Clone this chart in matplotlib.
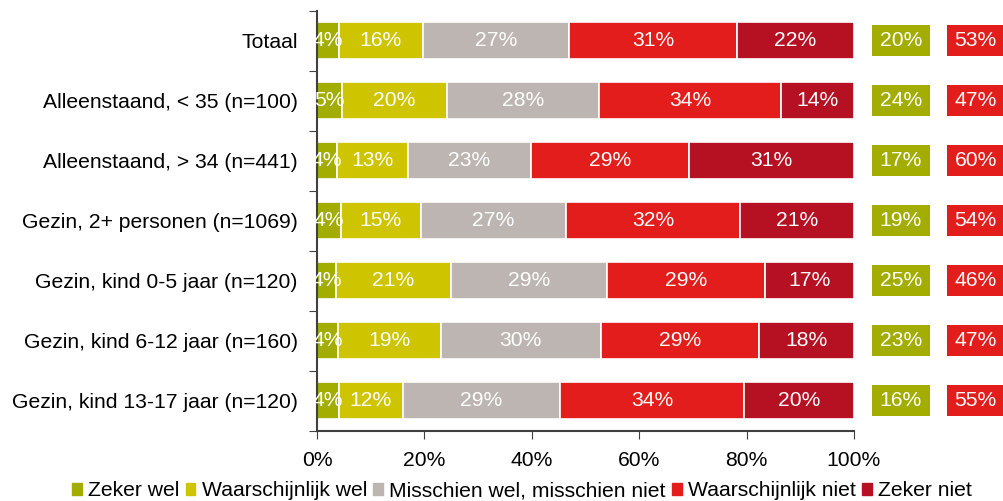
import numpy as np
import matplotlib.pyplot as plt
from matplotlib.patches import Patch

plt.rcParams['font.family'] = ['Liberation Sans', 'DejaVu Sans']

categories = [
    "Totaal",
    "Alleenstaand, < 35 (n=100)",
    "Alleenstaand, > 34 (n=441)",
    "Gezin, 2+ personen (n=1069)",
    "Gezin, kind 0-5 jaar (n=120)",
    "Gezin, kind 6-12 jaar (n=160)",
    "Gezin, kind 13-17 jaar (n=120)",
]
series = ["Zeker wel", "Waarschijnlijk wel", "Misschien wel, misschien niet",
          "Waarschijnlijk niet", "Zeker niet"]

zeker_wel = [4.1, 4.6, 3.7, 4.4, 3.6, 4.0, 4.1]
waarschijnlijk_wel = [15.6, 19.6, 13.3, 15.0, 21.3, 19.0, 11.9]
misschien = [27.2, 28.4, 22.8, 27.0, 29.1, 29.9, 29.3]
waarschijnlijk_niet = [31.3, 33.8, 29.4, 32.4, 29.4, 29.4, 34.3]
zeker_niet = [21.8, 13.6, 30.8, 21.2, 16.6, 17.7, 20.4]

colors = ["#a2ad00", "#cec400", "#bdb5b1", "#e21d1b", "#b51123"]
fs = 15.2

data = np.array([zeker_wel, waarschijnlijk_wel, misschien,
                 waarschijnlijk_niet, zeker_niet])
positief = data[0] + data[1]
negatief = data[3] + data[4]

fig = plt.figure(figsize=(10.04, 5.01), dpi=100)
ax = fig.add_axes([317 / 1004, 1 - 430.5 / 501, 537 / 1004, 420 / 501])

y = np.arange(len(categories))
left = np.zeros(len(categories))
for vals, col, name in zip(data, colors, series):
    ax.barh(y, vals, left=left, height=0.63, color=col, edgecolor="white",
            linewidth=1.2, label=name)
    for yi, (l, v) in enumerate(zip(left, vals)):
        ax.text(l + v / 2, yi, f"{v:.0f}%", ha="center", va="center",
                color="white", fontsize=fs)
    left += vals

# summary boxes to the right of the bars
box_h = 0.53
ax.barh(y, 10.7, left=103.4, height=box_h, color=colors[0], clip_on=False)
ax.barh(y, 10.7, left=117.3, height=box_h, color=colors[3], clip_on=False)
for yi in y:
    ax.text(108.75, yi, f"{positief[yi]:.0f}%", ha="center", va="center",
            color="white", fontsize=fs, clip_on=False)
    ax.text(122.65, yi, f"{negatief[yi]:.0f}%", ha="center", va="center",
            color="white", fontsize=fs, clip_on=False)

ax.set_xlim(0, 100)
ax.set_ylim(len(categories) - 0.5, -0.5)
ax.set_xticks(np.arange(0, 101, 20))
ax.set_xticklabels([f"{t}%" for t in range(0, 101, 20)], fontsize=fs)
ax.set_yticks(np.arange(-0.5, len(categories), 1))
ax.set_yticklabels([])
ax.set_yticks(y, minor=True)
ax.set_yticklabels(categories, minor=True, fontsize=fs)
ax.tick_params(axis="y", which="minor", length=0, pad=14)
ax.tick_params(axis="y", which="major", length=6, direction="out", color="#404040")
ax.tick_params(axis="x", length=6, direction="out", color="#404040", pad=9)
for s in ["top", "right"]:
    ax.spines[s].set_visible(False)
for s in ["left", "bottom"]:
    ax.spines[s].set_color("#404040")
    ax.spines[s].set_linewidth(1.5)

handles = [Patch(color=c, label=n) for c, n in zip(colors, series)]
fig.legend(handles=handles, loc="center", bbox_to_anchor=(0.52, 0.02),
           ncol=5, frameon=False, fontsize=fs, handlelength=0.45,
           handleheight=0.55, handletextpad=0.3, columnspacing=0.3)

fig.savefig("out.png", dpi=100)
